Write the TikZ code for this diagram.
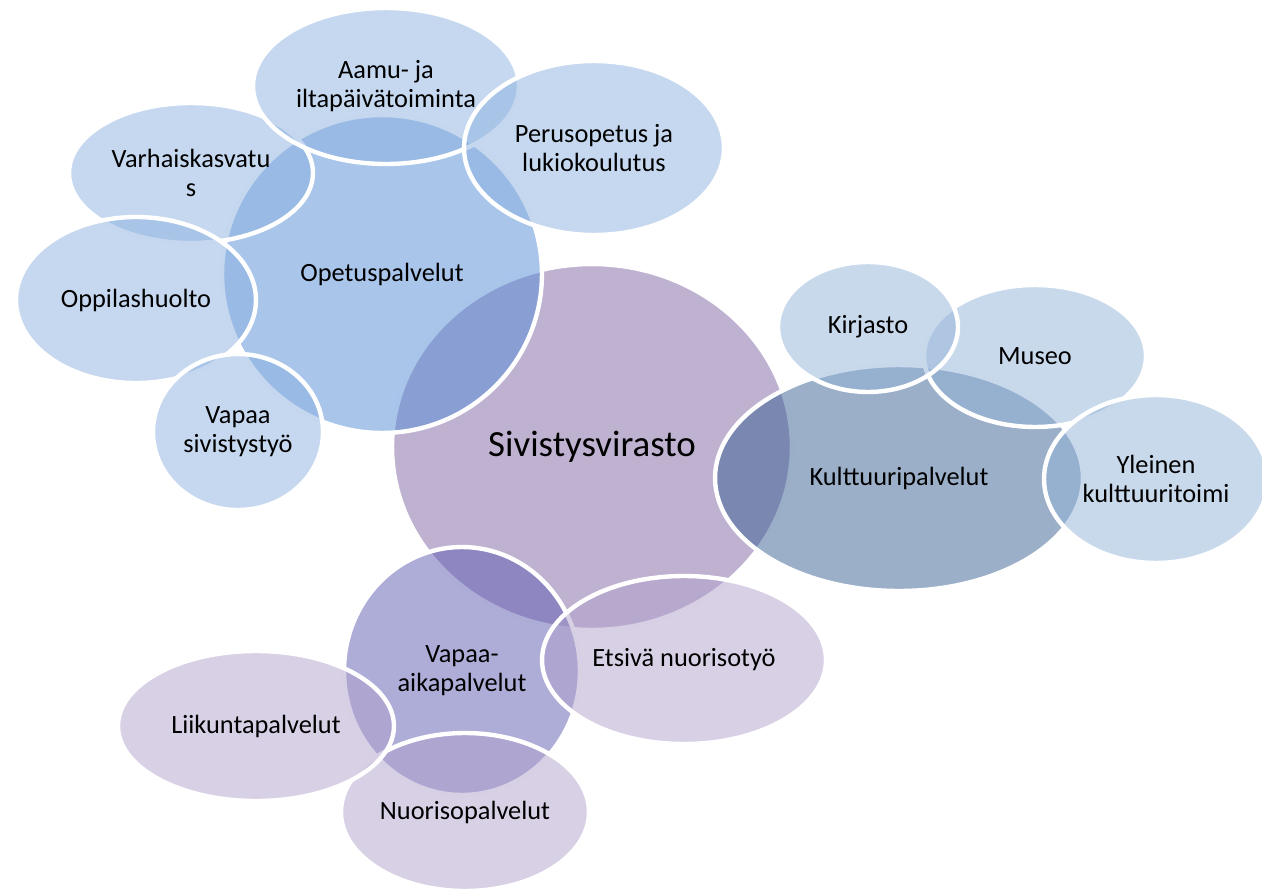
\documentclass[tikz,border=0pt]{standalone}
\usepackage{fontspec}
\setmainfont{Carlito}
\usepackage{tikz}
\usetikzlibrary{shapes.geometric}

\definecolor{sivpurple}{RGB}{128,100,162}
\definecolor{opeblue}{RGB}{83,139,213}
\definecolor{kultslate}{RGB}{55,95,147}
\definecolor{vapindigo}{RGB}{91,91,177}
\definecolor{subblue}{RGB}{139,177,223}
\definecolor{subslate}{RGB}{147,179,217}
\definecolor{sublilac}{RGB}{177,161,203}

\begin{document}
\begin{tikzpicture}[
    x=0.02cm, y=-0.02cm,
    bubble/.style={ellipse, draw=white, line width=2.5pt, fill opacity=0.5,
                   text opacity=1, inner sep=0pt, outer sep=0pt, align=center,
                   font=\fontsize{15}{16.5}\selectfont},
    core/.style={bubble, fill=sivpurple, font=\fontsize{21}{24}\selectfont},
    branch/.style={bubble, fill=#1},
    leaf/.style={bubble, fill=#1}
]
\useasboundingbox (0,0) rectangle (1262,893);

% Centre
\node[core, minimum width=8cm, minimum height=7.32cm] (sivisty) at (592,447) {Sivistysvirasto};

% Opetuspalvelut and its parts
\node[branch=opeblue, minimum width=6.4cm, minimum height=6.36cm] (opetus) at (382,274) {Opetuspalvelut};
\node[leaf=subblue, minimum width=4.88cm, minimum height=2.8cm] (varhais) at (191,173) {Varhaiskasvatu\\s};
\node[leaf=subblue, minimum width=5.32cm, minimum height=3.12cm] (aamu) at (386,86) {Aamu- ja\\iltapäivätoiminta};
\node[leaf=subblue, minimum width=5.2cm, minimum height=3.48cm] (perus) at (594,148) {Perusopetus ja\\lukiokoulutus};
\node[leaf=subblue, minimum width=4.8cm, minimum height=3.32cm] (oppilas) at (136,300) {Oppilashuolto};
\node[leaf=subblue, minimum width=3.4cm, minimum height=3.12cm] (vapsiv) at (238,432) {Vapaa\\sivistystyö};

% Kulttuuripalvelut and its parts
\node[branch=kultslate, minimum width=7.36cm, minimum height=4.52cm] (kult) at (899,478) {Kulttuuripalvelut};
\node[leaf=subslate, minimum width=4.44cm, minimum height=2.84cm] (museo) at (1035,356) {Museo};
\node[leaf=subslate, minimum width=3.6cm, minimum height=2.6cm] (kirjasto) at (868,327) {Kirjasto};
\node[leaf=subslate, minimum width=4.48cm, minimum height=3.36cm] (yleinen) at (1156,479) {Yleinen\\kulttuuritoimi};

% Vapaa-aikapalvelut and its parts
\node[branch=vapindigo, minimum width=4.72cm, minimum height=4.96cm] (vapaika) at (462,671) {Vapaa-\\aikapalvelut};
\node[leaf=sublilac, minimum width=4.96cm, minimum height=3.16cm] (nuoriso) at (465,812) {Nuorisopalvelut};
\node[leaf=sublilac, minimum width=5.52cm, minimum height=3.0cm] (liikunta) at (256,726) {Liikuntapalvelut};
\node[leaf=sublilac, minimum width=5.68cm, minimum height=3.36cm] (etsiva) at (684,660) {Etsivä nuorisotyö};

\end{tikzpicture}
\end{document}
